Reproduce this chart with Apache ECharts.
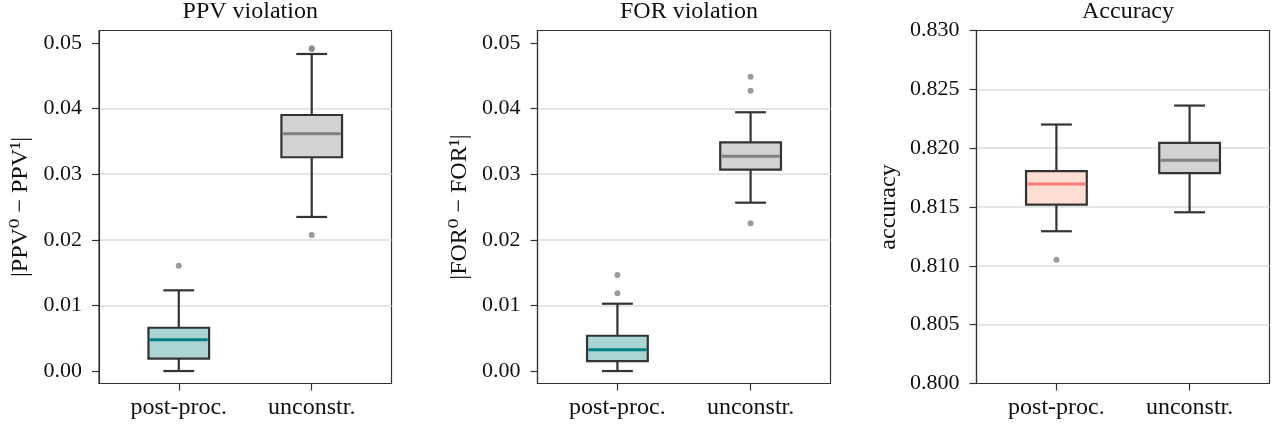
<!DOCTYPE html>
<html>
<head>
<meta charset="utf-8">
<script src="https://cdn.jsdelivr.net/npm/echarts@6/dist/echarts.min.js"></script>
<style>
  html, body { margin: 0; padding: 0; background: #fff; }
  #chart { width: 1276px; height: 429px; }
</style>
</head>
<body>
<div id="chart"></div>
<script>
// groups on the x axis
const categories = ['post-proc.', 'unconstr.']

// box stats per group: [lower whisker, Q1, median, Q3, upper whisker]
const ppvStats = [
    [0.0000, 0.00188, 0.00477, 0.00660, 0.01230],
    [0.02348, 0.03258, 0.03617, 0.03902, 0.04832]
]
const ppvOutliers = [[0.01605], [0.04909, 0.04918, 0.02073]]

const forStats = [
    [0.0000, 0.00152, 0.00325, 0.00538, 0.01026],
    [0.02566, 0.03069, 0.03273, 0.03486, 0.03944]
]
const forOutliers = [[0.01463, 0.01184], [0.04486, 0.04273, 0.02252]]

const accStats = [
    [0.81294, 0.81520, 0.81695, 0.81805, 0.82201],
    [0.81455, 0.81788, 0.81898, 0.82045, 0.82362]
]
const accOutliers = [[0.81051], []]

const violationTicks = [0, 0.01, 0.02, 0.03, 0.04, 0.05]

// colours
const tealFill = '#abd5d5', tealLine = '#008080'
const salmonFill = '#ffdfd3', salmonLine = '#fa8072'
const grayFill = '#d3d3d3', grayLine = '#808080'
const edge = '#333333'

const fontFamily = '"Liberation Serif", "DejaVu Serif", serif'

const chart = echarts.init(document.getElementById('chart'))

const grids = [
    { left: 99, top: 30.5, width: 292.5, height: 353 },
    { left: 537.5, top: 30.5, width: 293, height: 353 },
    { left: 976.5, top: 30.5, width: 293, height: 353 }
]

const boxHalf = 0.228
const capHalf = 0.116

const boxRenderer = (fills, medians) => (params, api) => {
    const x = api.value(0)
    const i = params.dataIndex
    const pt = (dx, v) => api.coord([x + dx, v])
    const lo = api.value(1), q1 = api.value(2), med = api.value(3), q3 = api.value(4), hi = api.value(5)
    const line = (a, b, w, c) => ({
        type: 'line',
        shape: { x1: a[0], y1: a[1], x2: b[0], y2: b[1] },
        style: { stroke: c, lineWidth: w }
    })
    const tl = pt(-boxHalf, q3)
    const br = pt(boxHalf, q1)
    return {
        type: 'group',
        children: [
            line(pt(0, q3), pt(0, hi), 2.2, edge),
            line(pt(0, lo), pt(0, q1), 2.2, edge),
            line(pt(-capHalf, hi), pt(capHalf, hi), 2.2, edge),
            line(pt(-capHalf, lo), pt(capHalf, lo), 2.2, edge),
            {
                type: 'rect',
                shape: { x: tl[0], y: tl[1], width: br[0] - tl[0], height: br[1] - tl[1] },
                style: { fill: fills[i], stroke: edge, lineWidth: 2.2 }
            },
            line(pt(-boxHalf + 0.01, med), pt(boxHalf - 0.01, med), 3, medians[i])
        ]
    }
}

const boxData = stats => stats.map((s, i) => [i].concat(s))
const outlierData = outs => outs.flatMap((vals, i) => vals.map(v => [i, v]))

const xAxisFor = idx => ({
    gridIndex: idx,
    type: 'value',
    min: -0.6,
    max: 1.6,
    axisLine: { show: true, onZero: false, lineStyle: { color: edge, width: 1.2 } },
    axisTick: { show: true, customValues: [0, 1], length: 7, lineStyle: { color: edge, width: 1.2 } },
    axisLabel: {
        customValues: [0, 1],
        formatter: v => categories[Math.round(v)],
        margin: 12,
        color: '#111',
        fontSize: 24,
        fontFamily
    },
    splitLine: { show: false }
})

const yAxisBase = {
    type: 'value',
    nameLocation: 'middle',
    nameTextStyle: { color: '#111', fontSize: 24, fontFamily },
    axisLine: { show: true, onZero: false, lineStyle: { color: edge, width: 1.2 } },
    axisTick: { show: true, length: 7, lineStyle: { color: edge, width: 1.2 } },
    axisLabel: { margin: 17, color: '#111', fontSize: 22, fontFamily },
    splitLine: { show: true, showMinLine: false, showMaxLine: false, lineStyle: { color: '#dddddd', width: 1.5 } }
}

const violationAxis = (idx, name) => ({
    ...yAxisBase,
    gridIndex: idx,
    name,
    nameGap: 66,
    min: -0.0019,
    max: 0.0519,
    axisTick: { ...yAxisBase.axisTick, customValues: violationTicks },
    axisLabel: { ...yAxisBase.axisLabel, customValues: violationTicks, formatter: v => v.toFixed(2) }
})

const titles = ['PPV violation', 'FOR violation', 'Accuracy']

const option = {
    animation: false,
    backgroundColor: '#fff',
    title: titles.map((t, i) => ({
        text: t,
        left: grids[i].left + grids[i].width / 2,
        top: -5,
        textAlign: 'center',
        textStyle: { color: '#111', fontSize: 24, fontWeight: 'normal', fontFamily }
    })),
    grid: grids.map(g => ({ ...g, containLabel: false, show: true, borderColor: edge, borderWidth: 1.2 })),
    xAxis: [xAxisFor(0), xAxisFor(1), xAxisFor(2)],
    yAxis: [
        violationAxis(0, '|PPV\u2070 \u2212 PPV\u00b9|'),
        violationAxis(1, '|FOR\u2070 \u2212 FOR\u00b9|'),
        {
            ...yAxisBase,
            gridIndex: 2,
            name: 'accuracy',
            nameGap: 76,
            min: 0.8,
            max: 0.83,
            interval: 0.005,
            axisLabel: { ...yAxisBase.axisLabel, formatter: v => v.toFixed(3) }
        }
    ],
    series: [
        { stats: ppvStats, outs: ppvOutliers, fills: [tealFill, grayFill], meds: [tealLine, grayLine] },
        { stats: forStats, outs: forOutliers, fills: [tealFill, grayFill], meds: [tealLine, grayLine] },
        { stats: accStats, outs: accOutliers, fills: [salmonFill, grayFill], meds: [salmonLine, grayLine] }
    ].flatMap((p, i) => [
        {
            type: 'custom',
            xAxisIndex: i,
            yAxisIndex: i,
            renderItem: boxRenderer(p.fills, p.meds),
            encode: { x: 0, y: [1, 2, 3, 4, 5] },
            data: boxData(p.stats),
            z: 2
        },
        {
            type: 'scatter',
            xAxisIndex: i,
            yAxisIndex: i,
            symbolSize: 6,
            itemStyle: { color: '#8a8a8a', opacity: 0.85 },
            data: outlierData(p.outs),
            z: 3
        }
    ])
}

chart.setOption(option)
</script>
</body>
</html>
